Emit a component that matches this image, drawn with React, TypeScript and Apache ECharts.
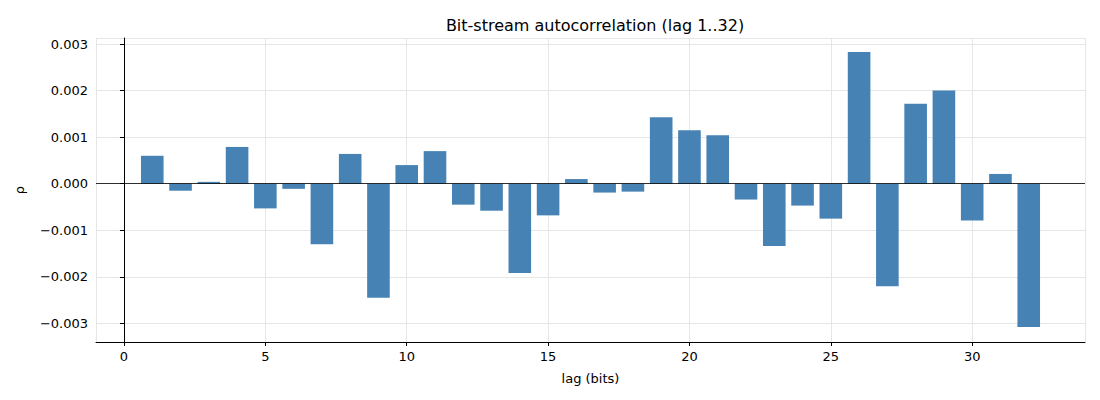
import * as echarts from "echarts";
import { useEffect, useRef } from "react";

const lags = [1, 2, 3, 4, 5, 6, 7, 8, 9, 10, 11, 12, 13, 14, 15, 16, 17, 18, 19, 20, 21, 22, 23, 24, 25, 26, 27, 28, 29, 30, 31, 32];
const rho = [
  0.0006, -0.00015, 0.00004, 0.00079, -0.00053, -0.00011, -0.0013, 0.00064,
  -0.00245, 0.0004, 0.0007, -0.00045, -0.00058, -0.00192, -0.00068, 0.0001,
  -0.00019, -0.00017, 0.00143, 0.00115, 0.00104, -0.00034, -0.00134, -0.00047,
  -0.00075, 0.00283, -0.0022, 0.00172, 0.002, -0.00079, 0.00021, -0.00308,
];

const font = "DejaVu Sans";

export default function App() {
  const ref = useRef<HTMLDivElement | null>(null);

  useEffect(() => {
    if (!ref.current) return;
    const chart = echarts.init(ref.current, undefined, { renderer: "svg" });
    chart.setOption({
      animation: false,
      textStyle: { fontFamily: font },
      title: {
        text: "Bit-stream autocorrelation (lag 1..32)",
        left: 590,
        top: 12,
        textAlign: "center",
        textStyle: { fontFamily: font, fontSize: 16, fontWeight: "normal", color: "#000" },
      },
      grid: { left: 96, right: 15, top: 38, bottom: 58 },
      xAxis: {
        type: "value",
        min: -0.99,
        max: 33.99,
        splitNumber: 7,
        name: "lag (bits)",
        nameLocation: "middle",
        nameGap: 30,
        nameTextStyle: { fontSize: 13, color: "#000" },
        axisLine: { onZero: false, lineStyle: { color: "#000" } },
        axisTick: { show: true, length: 4, lineStyle: { color: "#000" } },
        axisLabel: { color: "#000", fontSize: 13, showMinLabel: false, showMaxLabel: false },
        splitLine: { show: true, lineStyle: { color: "#e6e6e6" } },
      },
      yAxis: {
        type: "value",
        min: -0.0034,
        max: 0.00313,
        splitNumber: 6,
        name: "ρ",
        nameLocation: "middle",
        nameGap: 70,
        nameTextStyle: { fontSize: 13, color: "#000" },
        axisLine: { show: true, lineStyle: { color: "#000" } },
        axisTick: { show: true, length: 4, lineStyle: { color: "#000" } },
        axisLabel: {
          color: "#000",
          fontSize: 13,
          showMinLabel: false,
          showMaxLabel: false,
          formatter: (v: number) => v.toFixed(3).replace("-0.000", "0.000").replace("-", "−"),
        },
        splitLine: { show: true, lineStyle: { color: "#e6e6e6" } },
      },
      series: [
        {
          type: "bar",
          data: lags.map((l, i) => [l, rho[i]]),
          barWidth: 22.6,
          itemStyle: { color: "#4682b4" },
          markLine: {
            silent: true,
            symbol: "none",
            label: { show: false },
            lineStyle: { color: "#000", type: "solid", width: 0.8 },
            data: [{ yAxis: 0 }],
          },
        },
      ],
    });
    return () => chart.dispose();
  }, []);

  return <div ref={ref} style={{ width: 1100, height: 400, margin: -8 }} />;
}
